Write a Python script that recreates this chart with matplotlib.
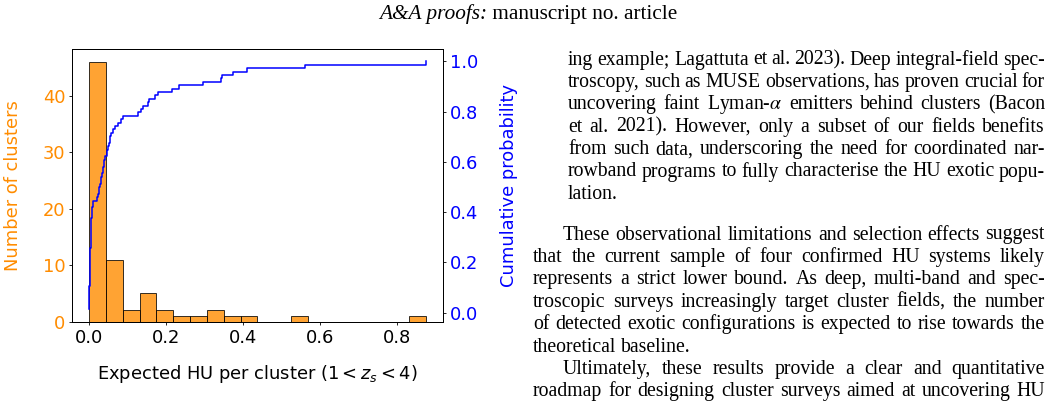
import matplotlib
matplotlib.use('Agg')
import matplotlib.pyplot as plt
import numpy as np

W, H = 1057, 403

# ---- data (expected HU per cluster, 74 clusters, sorted) ----
hu_per_cluster = [
    0.0000, 0.0001, 0.0003, 0.0004, 0.0005, 0.0006, 0.0008, 0.0009,
    0.0010, 0.0012, 0.0013, 0.0015, 0.0016, 0.0018, 0.0020, 0.0022,
    0.0025, 0.0029, 0.0032, 0.0036, 0.0040,
    0.0043, 0.0045, 0.0047, 0.0050,
    0.0053, 0.0056, 0.0060, 0.0064, 0.0068,
    0.0080, 0.0095, 0.0110,
    0.0205, 0.0235,
    0.0250, 0.0265, 0.0280, 0.0300,
    0.0320, 0.0335, 0.0350, 0.0365,
    0.0380, 0.0395, 0.0420,
    0.0455, 0.0470, 0.0490, 0.0510, 0.0530, 0.0550, 0.0580, 0.0620,
    0.0680, 0.0750, 0.0840,
    0.0890, 0.1280,
    0.1340, 0.1410, 0.1520, 0.1550, 0.1710,
    0.1800, 0.2150,
    0.2347, 0.2955, 0.3430, 0.3460, 0.3750, 0.4100, 0.5620, 0.8760,
]
n_bins = 20
x_ticks = [0.0, 0.2, 0.4, 0.6, 0.8]
left_ticks = [0, 10, 20, 30, 40]
right_ticks = [0.0, 0.2, 0.4, 0.6, 0.8, 1.0]

xlabel = r'Expected HU per cluster $(1 < z_s < 4)$'
ylabel_left = 'Number of clusters'
ylabel_right = 'Cumulative probability'

header_italic = 'A&A proofs:'
header_roman = ' manuscript no. article'

block1_lines = [
    'ing example; Lagattuta et al. 2023). Deep integral-field spec-',
    'troscopy, such as MUSE observations, has proven crucial for',
    r'uncovering faint Lyman-$\alpha$ emitters behind clusters (Bacon',
    'et al. 2021). However, only a subset of our fields benefits',
    'from such data, underscoring the need for coordinated nar-',
    'rowband programs to fully characterise the HU exotic popu-',
    'lation.',
]
para2_lines = [
    'These observational limitations and selection effects suggest',
    'that the current sample of four confirmed HU systems likely',
    'represents a strict lower bound. As deep, multi-band and spec-',
    'troscopic surveys increasingly target cluster fields, the number',
    'of detected exotic configurations is expected to rise towards the',
    'theoretical baseline.',
]
para3_lines = [
    'Ultimately, these results provide a clear and quantitative',
    'roadmap for designing cluster surveys aimed at uncovering HU',
]

ORANGE = 'darkorange'
BLUE = 'blue'
FS = 12.9

fig = plt.figure(figsize=(W / 100, H / 100), dpi=100)

# axes placement in pixels
ax_l, ax_r, ax_t, ax_b = 72.3, 442.7, 49.0, 321.7
ax = fig.add_axes([ax_l / W, 1 - ax_b / H, (ax_r - ax_l) / W, (ax_b - ax_t) / H])

data = np.array(hu_per_cluster)
ax.hist(data, bins=n_bins, color=ORANGE, edgecolor='black', alpha=0.8, linewidth=0.7)
ax.set_xticks(x_ticks)
ax.set_yticks(left_ticks)
ax.tick_params(axis='both', labelsize=FS, length=2.5, width=0.6, pad=2.4)
ax.tick_params(axis='y', labelcolor=ORANGE)
for s in ax.spines.values():
    s.set_linewidth(0.7)
ax.set_xlabel(xlabel, fontsize=FS)
ax.set_ylabel(ylabel_left, fontsize=FS, color=ORANGE)
ax.xaxis.set_label_coords(0.5, -0.15)
ax.yaxis.set_label_coords(-0.135, 0.5)

ax2 = ax.twinx()
xs = np.sort(data)
cdf = np.arange(1, len(xs) + 1) / len(xs)
ax2.step(xs, cdf, where='post', color=BLUE, linewidth=1.1)
ax2.set_yticks(right_ticks)
ax2.tick_params(axis='y', labelsize=FS, length=2.5, width=0.6, pad=2.4, labelcolor=BLUE)
for s in ax2.spines.values():
    s.set_linewidth(0.7)
ax2.set_ylabel(ylabel_right, fontsize=FS, color=BLUE)
ax2.yaxis.set_label_coords(1.155, 0.5)

# ---- page text ----
renderer = fig.canvas.get_renderer()
BODY_FS = 14.2
SERIF = 'Liberation Serif'


def fx(x):
    return x / W


def fy(y):
    return 1 - y / H


def draw_line(text, x0, x1, y, justify):
    toks = text.split(' ')
    objs = [fig.text(0, 0, t, fontsize=BODY_FS, family=SERIF, math_fontfamily='stix',
                     ha='left', va='baseline') for t in toks]
    widths = [o.get_window_extent(renderer).width for o in objs]
    space = BODY_FS * 100 / 72 * 0.25
    if justify and len(toks) > 1:
        gap = (x1 - x0 - sum(widths)) / (len(toks) - 1)
        gap = max(gap, 0.5 * space)
    else:
        gap = space
    x = x0
    for o, w in zip(objs, widths):
        o.set_position((fx(x), fy(y)))
        x += w + gap


def draw_par(lines, x0, x1, y0, dy, indent, last_unjust):
    for i, ln in enumerate(lines):
        xs0 = x0 + (indent if i == 0 else 0)
        just = not (last_unjust and i == len(lines) - 1)
        draw_line(ln, xs0, x1, y0 + i * dy, just)


DY = 22.4
RIGHT = 1045
draw_par(block1_lines, 568, RIGHT, 64.5, DY, 0, True)
draw_par(para2_lines, 533, RIGHT, 239.5, DY, 30, True)
draw_par(para3_lines, 533, RIGHT, 239.5 + 6 * DY, DY, 30, False)

# header
HFS = 15.3
hi = fig.text(0, 0, header_italic, fontsize=HFS, family=SERIF, style='italic',
              ha='left', va='baseline')
hr = fig.text(0, 0, header_roman, fontsize=HFS, family=SERIF,
              ha='left', va='baseline')
wi = hi.get_window_extent(renderer).width
wr = hr.get_window_extent(renderer).width
xstart = 528 - (wi + wr) / 2
hi.set_position((fx(xstart), fy(19.5)))
hr.set_position((fx(xstart + wi), fy(19.5)))

fig.savefig('out.png', dpi=100)
